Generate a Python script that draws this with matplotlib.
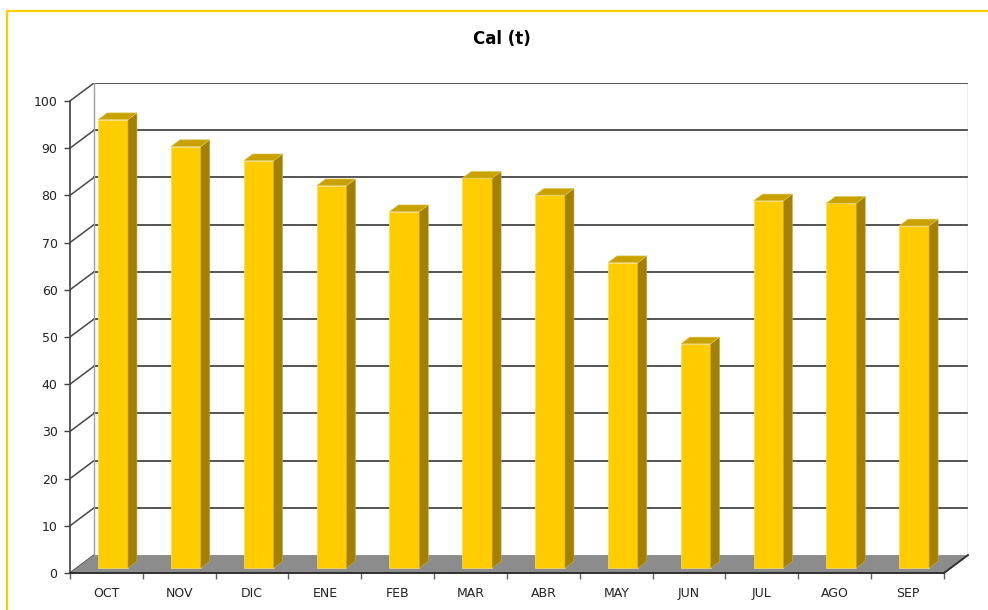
import numpy as np
import matplotlib
matplotlib.use("Agg")
import matplotlib.pyplot as plt
from matplotlib.patches import Polygon
from matplotlib.lines import Line2D

# monthly values, Cal (t)
meses = ['OCT', 'NOV', 'DIC', 'ENE', 'FEB', 'MAR', 'ABR', 'MAY', 'JUN', 'JUL', 'AGO', 'SEP']
cal = [95.0, 89.3, 86.3, 81.0, 75.5, 82.6, 79.0, 64.7, 47.5, 77.8, 77.3, 72.5]
yticks = list(range(0, 101, 10))

# fake 3d: depth offset of the back wall (data units)
DX = 0.33
DY = 3.8
F0, F1 = 0.275, 0.65   # bar front/back as fraction of depth
BW = 0.41              # bar width

c_front = '#FFCC00'
c_side = '#A38000'
c_top = '#C9A200'
c_grid = '#474747'

fig = plt.figure(figsize=(9.88, 6.1), dpi=100)
fig.patch.set_facecolor('white')
ax = fig.add_axes([70/988, 37/610, 898/988, 490/610])
n = len(meses)
ymax = yticks[-1]
ax.set_xlim(-0.5, n - 0.5 + DX)
ax.set_ylim(0, ymax + DY)
ax.set_facecolor('none')
for s in ax.spines.values():
    s.set_visible(False)

x0, x1 = -0.5, n - 0.5

# back wall gridlines and side wall diagonals
for t in yticks:
    if t > 0:
        ax.plot([x0 + DX, x1 + DX], [t + DY, t + DY], color=c_grid, lw=1.3, zorder=1)
    ax.plot([x0, x0 + DX], [t, t + DY], color=c_grid, lw=1.1, zorder=1)
ax.plot([x0 + DX, x0 + DX], [DY, ymax + DY], color='#a0a0a0', lw=1.0, zorder=1)
ax.plot([x1 + DX, x1 + DX], [DY, ymax + DY], color='#a0a0a0', lw=1.0, zorder=1)

# floor
floor = Polygon([[x0, 0], [x1, 0], [x1 + DX, DY], [x0 + DX, DY]], closed=True,
                facecolor='#8c8c8c', edgecolor='none', zorder=2)
ax.add_patch(floor)

# bars
for i, v in enumerate(cal):
    xl = i - BW / 2 + F0 * DX
    xr = i + BW / 2 + F0 * DX
    yb = F0 * DY
    ddx = (F1 - F0) * DX
    ddy = (F1 - F0) * DY
    front = Polygon([[xl, yb], [xr, yb], [xr, v + yb], [xl, v + yb]],
                    facecolor=c_front, edgecolor='#f3dc7a', lw=0.5, zorder=3)
    side = Polygon([[xr, yb], [xr + ddx, yb + ddy], [xr + ddx, v + yb + ddy], [xr, v + yb]],
                   facecolor=c_side, edgecolor='#c7ad50', lw=0.4, zorder=3)
    top = Polygon([[xl, v + yb], [xr, v + yb], [xr + ddx, v + yb + ddy], [xl + ddx, v + yb + ddy]],
                  facecolor=c_top, edgecolor='#e0c860', lw=0.4, zorder=3)
    ax.add_patch(front)
    ax.add_patch(side)
    ax.add_patch(top)

# front axis lines
ax.plot([x0, x0], [0, ymax], color='#404040', lw=1.2, zorder=4, clip_on=False)
ax.plot([x0, x1], [0, 0], color='#303030', lw=1.4, zorder=4, clip_on=False)
ax.plot([x1, x1 + DX], [0, DY], color='#303030', lw=1.4, zorder=4, clip_on=False)

# ticks
ax.set_yticks(yticks)
ax.tick_params(axis='y', direction='out', length=4, width=1, color='#404040',
               pad=5, labelsize=9, labelcolor='#222222')
ax.set_xticks(np.arange(-0.5, n, 1.0))
ax.set_xticklabels([])
ax.set_xticks(np.arange(n), minor=True)
ax.set_xticklabels(meses, minor=True)
ax.tick_params(axis='x', which='major', direction='out', length=4, width=1, color='#606060')
ax.tick_params(axis='x', which='minor', length=0, pad=10, labelsize=9, labelcolor='#222222')

fig.text(502/988, 1 - 39/610, 'Cal (t)', ha='center', va='center',
         fontsize=12, fontweight='bold', color='black')

# yellow frame
fig.add_artist(Line2D([7/988, 7/988, 1.0], [0, 1 - 11/610, 1 - 11/610],
                      transform=fig.transFigure, color='#FFCC00', lw=1.6))

fig.savefig('out.png', dpi=100, facecolor='white')
